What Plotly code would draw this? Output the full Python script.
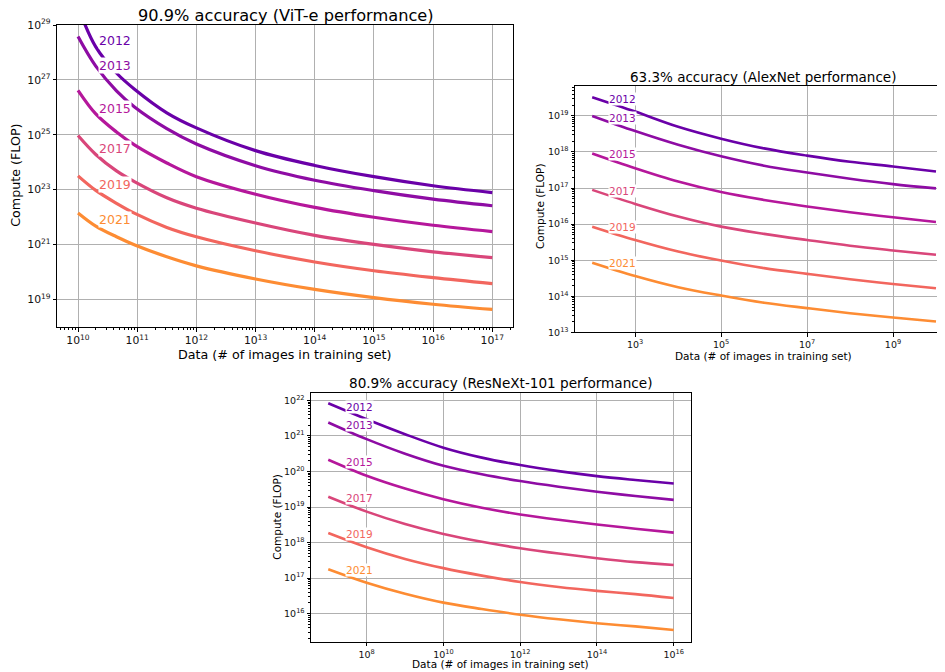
import plotly.graph_objects as go

W, H = 945, 672
OFF = 8  # page body margin offset
years = ["2012", "2013", "2015", "2017", "2019", "2021"]
colors = ["#6a00a8", "#8e0ca4", "#b5179b", "#d9467a", "#f2665e", "#fd8c33"]

# ---- Panel 1: 90.9% accuracy (ViT-e) ; data exponent (log10 images) and compute exponent (log10 FLOP)
vit_data_exp = [10, 10.3, 10.65, 10.96, 11.5, 12, 13, 14, 15, 16, 17]
vit_2012 = [29.65, 28.2, 27.25, 26.65, 25.8, 25.25, 24.42, 23.88, 23.47, 23.14, 22.89]
vit_2013 = [28.58, 27.5, 26.6, 26.0, 25.22, 24.66, 23.87, 23.34, 22.96, 22.65, 22.41]
vit_2015 = [26.62, 25.76, 25.1, 24.62, 23.97, 23.47, 22.83, 22.35, 21.99, 21.70, 21.47]
vit_2017 = [24.97, 24.28, 23.68, 23.28, 22.7, 22.32, 21.78, 21.33, 21.0, 20.73, 20.52]
vit_2019 = [23.50, 22.97, 22.5, 22.13, 21.62, 21.28, 20.77, 20.36, 20.04, 19.79, 19.57]
vit_2021 = [22.15, 21.67, 21.28, 20.98, 20.55, 20.22, 19.74, 19.36, 19.06, 18.82, 18.63]
vit_label_x = 10.62
vit_label_y = [28.42, 27.54, 25.95, 24.50, 23.20, 21.91]

# ---- Panel 2: 63.3% accuracy (AlexNet)
alex_data_exp = [2, 3, 4, 5, 6, 7, 8, 9, 10]
alex_2012 = [19.52, 19.12, 18.70, 18.37, 18.10, 17.90, 17.73, 17.60, 17.46]
alex_2013 = [19.0, 18.58, 18.20, 17.88, 17.62, 17.43, 17.26, 17.11, 16.99]
alex_2015 = [17.96, 17.55, 17.18, 16.89, 16.67, 16.49, 16.33, 16.19, 16.06]
alex_2017 = [16.95, 16.56, 16.21, 15.93, 15.73, 15.56, 15.40, 15.27, 15.15]
alex_2019 = [15.93, 15.56, 15.24, 14.99, 14.78, 14.62, 14.47, 14.34, 14.22]
alex_2021 = [14.93, 14.56, 14.25, 14.02, 13.82, 13.67, 13.53, 13.41, 13.30]
alex_label_x = 2.70
alex_label_y = [19.46, 18.95, 17.94, 16.93, 15.92, 14.92]

# ---- Panel 3: 80.9% accuracy (ResNeXt-101)
rnx_data_exp = [7, 8, 9, 10, 11, 12, 13, 14, 15, 16]
rnx_2012 = [21.92, 21.47, 21.05, 20.67, 20.39, 20.18, 20.01, 19.87, 19.76, 19.66]
rnx_2013 = [21.38, 20.91, 20.50, 20.16, 19.92, 19.73, 19.57, 19.43, 19.31, 19.20]
rnx_2015 = [20.33, 19.88, 19.52, 19.22, 18.98, 18.79, 18.64, 18.51, 18.39, 18.28]
rnx_2017 = [19.29, 18.87, 18.52, 18.24, 18.02, 17.84, 17.69, 17.56, 17.45, 17.37]
rnx_2019 = [18.27, 17.87, 17.54, 17.28, 17.07, 16.89, 16.75, 16.64, 16.55, 16.44]
rnx_2021 = [17.25, 16.87, 16.56, 16.31, 16.13, 15.97, 15.84, 15.73, 15.64, 15.54]
rnx_label_x = 7.81
rnx_label_y = [21.81, 21.30, 20.26, 19.24, 18.24, 17.23]

titles = ["90.9% accuracy (ViT-e performance)",
          "63.3% accuracy (AlexNet performance)",
          "80.9% accuracy (ResNeXt-101 performance)"]
xlabel = "Data (# of images in training set)"
ylabel = "Compute (FLOP)"

vit_xticks = [10, 11, 12, 13, 14, 15, 16, 17]
vit_yticks = [19, 21, 23, 25, 27, 29]
alex_xticks = [3, 5, 7, 9]
alex_yticks = [13, 14, 15, 16, 17, 18, 19]
rnx_xticks = [8, 10, 12, 14, 16]
rnx_yticks = [16, 17, 18, 19, 20, 21, 22]

panels = [
    dict(xd=vit_data_exp, ys=[vit_2012, vit_2013, vit_2015, vit_2017, vit_2019, vit_2021],
         lx=vit_label_x, ly=vit_label_y, xt=vit_xticks, yt=vit_yticks,
         xr=[9.65, 17.35], yr=[17.99, 29.0],
         px=(57.3, 513), py=(25, 327), lw=3.2, lfs=12.5, tfs=10.8, title_fs=16.2, afs=12.7,
         title_xy=(285.8, 16), xl_xy=(285.3, 354.5), yl_xy=(16, 175.8),
         xminor=True, yminor=False, ymirror=True),
    dict(xd=alex_data_exp, ys=[alex_2012, alex_2013, alex_2015, alex_2017, alex_2019, alex_2021],
         lx=alex_label_x, ly=alex_label_y, xt=alex_xticks, yt=alex_yticks,
         xr=[1.6, 10.21], yr=[13.0, 19.83],
         px=(575, 945), py=(86, 332.3), lw=2.6, lfs=10.5, tfs=9.5, title_fs=13.5, afs=10.5,
         title_xy=(763.3, 76.7), xl_xy=(763.3, 355.5), yl_xy=(540.7, 206.3),
         xminor=False, yminor=True, ymirror=False),
    dict(xd=rnx_data_exp, ys=[rnx_2012, rnx_2013, rnx_2015, rnx_2017, rnx_2019, rnx_2021],
         lx=rnx_label_x, ly=rnx_label_y, xt=rnx_xticks, yt=rnx_yticks,
         xr=[6.55, 16.45], yr=[15.21, 22.2],
         px=(311, 691), py=(393.3, 641.7), lw=2.6, lfs=10.5, tfs=9.5, title_fs=13.6, afs=10.5,
         title_xy=(501, 383.3), xl_xy=(500.8, 663.5), yl_xy=(276.7, 517),
         xminor=False, yminor=True, ymirror=True),
]

FONT = "DejaVu Sans"
fig = go.Figure()
annotations = []
layout = {}


def fx(px):
    return (px - OFF) / W


def fy(py):
    return 1 - (py - OFF) / H


def minor_vals(lo, hi):
    vals = []
    for d in range(int(lo) - 1, int(hi) + 2):
        for m in range(2, 10):
            vals.append(float(m) * 10.0 ** d)
    return vals


for i, p in enumerate(panels):
    n = "" if i == 0 else str(i + 1)
    xa, ya = "x" + n, "y" + n
    for yvals, col, yr in zip(p["ys"], colors, years):
        fig.add_trace(go.Scatter(
            x=[10.0 ** v for v in p["xd"]], y=[10.0 ** v for v in yvals],
            mode="lines", line=dict(color=col, width=p["lw"], shape="spline", smoothing=1.0),
            xaxis=xa, yaxis=ya, showlegend=False, name=yr, cliponaxis=True))
    for yr, col, ly in zip(years, colors, p["ly"]):
        annotations.append(dict(x=p["lx"], y=ly, xref=xa, yref=ya, text=yr, showarrow=False,
                                font=dict(family=FONT, size=p["lfs"], color=col),
                                bgcolor="white", borderpad=0, xanchor="center", yanchor="middle"))
    x0, x1 = p["px"]
    y0, y1 = p["py"]
    common = dict(type="log", showline=True, linecolor="black", linewidth=1, automargin=False,
                  showgrid=True, gridcolor="#b0b0b0", gridwidth=1, zeroline=False,
                  ticks="outside", ticklen=3.5, tickwidth=0.8, tickcolor="black",
                  tickfont=dict(family=FONT, size=p["tfs"], color="#111"), tickmode="array")
    xaxis = dict(common, domain=[fx(x0), min(fx(x1), 1.0)], range=p["xr"], anchor=ya, mirror=True,
                 tickvals=[10.0 ** t for t in p["xt"]],
                 ticktext=["10<sup>%d</sup>" % t for t in p["xt"]])
    if p["xminor"]:
        xaxis["minor"] = dict(tickmode="array", tickvals=minor_vals(*p["xr"]), ticks="outside",
                              ticklen=2, tickwidth=0.6, tickcolor="black", showgrid=False)
    yaxis = dict(common, domain=[fy(y1), fy(y0)], range=p["yr"], anchor=xa,
                 mirror=p["ymirror"],
                 tickvals=[10.0 ** t for t in p["yt"]],
                 ticktext=["10<sup>%d</sup>" % t for t in p["yt"]])
    if p["yminor"]:
        yaxis["minor"] = dict(tickmode="array", tickvals=minor_vals(*p["yr"]), ticks="outside",
                              ticklen=2, tickwidth=0.6, tickcolor="black", showgrid=False)
    layout["xaxis" + n] = xaxis
    layout["yaxis" + n] = yaxis
    tx, ty = p["title_xy"]
    annotations.append(dict(x=fx(tx), y=fy(ty), xref="paper", yref="paper", text=titles[i],
                            showarrow=False, xanchor="center", yanchor="middle",
                            font=dict(family=FONT, size=p["title_fs"], color="black")))
    lx_, ly_ = p["xl_xy"]
    annotations.append(dict(x=fx(lx_), y=fy(ly_), xref="paper", yref="paper", text=xlabel,
                            showarrow=False, xanchor="center", yanchor="middle",
                            font=dict(family=FONT, size=p["afs"], color="black")))
    yx, yy = p["yl_xy"]
    annotations.append(dict(x=fx(yx), y=fy(yy), xref="paper", yref="paper", text=ylabel,
                            showarrow=False, xanchor="center", yanchor="middle", textangle=-90,
                            font=dict(family=FONT, size=p["afs"], color="black")))

fig.update_layout(width=W, height=H, margin=dict(l=0, r=0, t=0, b=0),
                  paper_bgcolor="white", plot_bgcolor="white",
                  annotations=annotations, **layout)
fig.write_html("out.html")
